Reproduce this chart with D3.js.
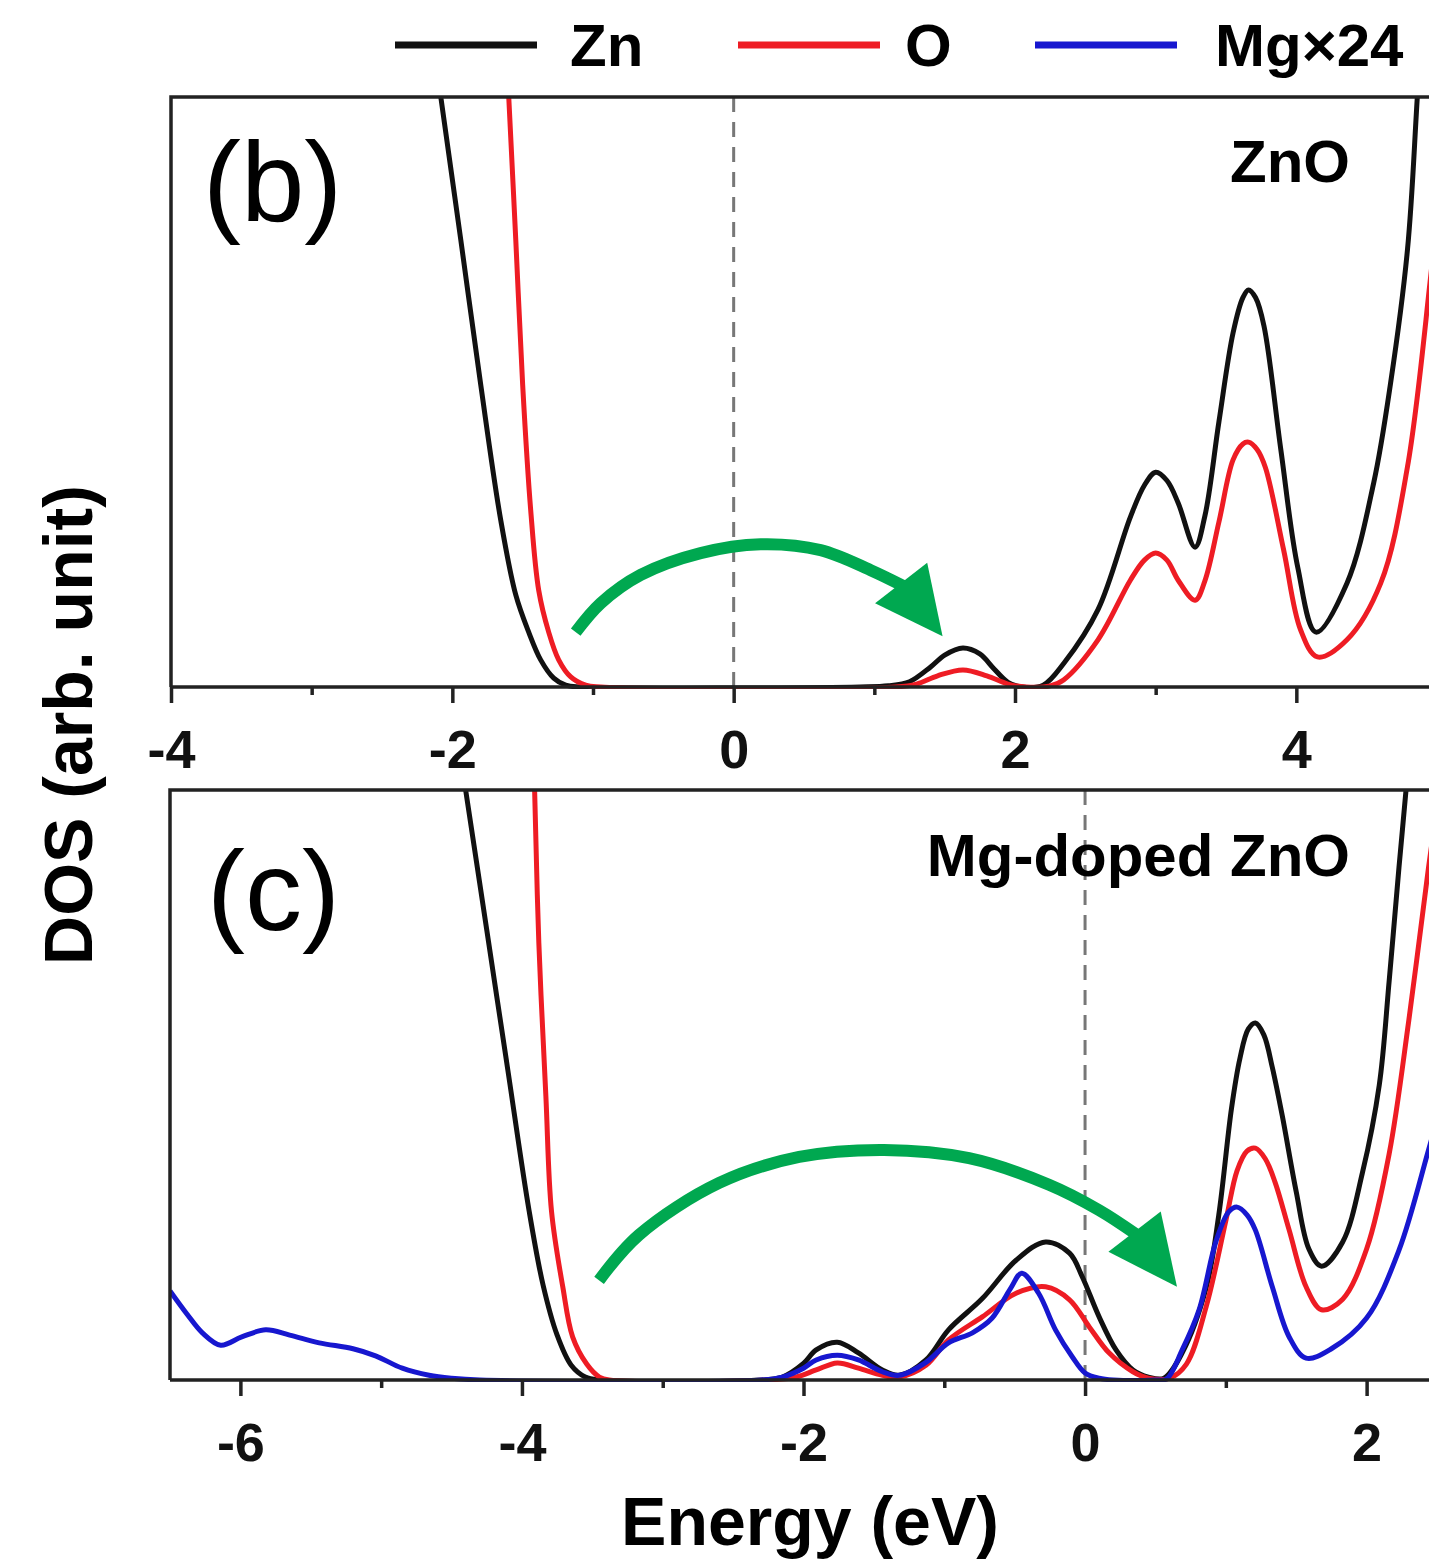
<!DOCTYPE html>
<html>
<head>
<meta charset="utf-8">
<script src="https://cdn.jsdelivr.net/npm/d3@7"></script>
<style>
  body { margin: 0; background: #fff; }
  text { font-family: "Liberation Sans", Arial, sans-serif; }
</style>
</head>
<body>
<svg width="1429" height="1565"></svg>
<script>
// DOS curves, [energy (eV), DOS (arb. unit, 0-100 = panel height)]
// panel (b) ZnO
let znB = [[-2.2, 120], [-2.082, 100], [-1.94, 75.8], [-1.798, 51.2], [-1.656, 28.3], [-1.549, 15.6],
    [-1.457, 9.3], [-1.372, 4.6], [-1.279, 1.5], [-1.194, 0.3], [-1.087, 0], [0.9, 0], [1.1, 0.2],
    [1.25, 0.9], [1.4, 3.4], [1.5, 5.4], [1.63, 6.6], [1.75, 5.6], [1.85, 3.1], [1.95, 0.8], [2.05, 0],
    [2.2, 0.3], [2.35, 4.1], [2.59, 13.1], [2.82, 28.8], [2.92, 34.2], [3.0, 36.4], [3.08, 35.0],
    [3.16, 31.2], [3.28, 23.7], [3.35, 29], [3.45, 45], [3.55, 60], [3.62, 66], [3.66, 67.3], [3.71, 66],
    [3.77, 61.2], [3.89, 40.2], [4.01, 20.3], [4.14, 9.3], [4.36, 17.6], [4.55, 34.6], [4.67, 51.5],
    [4.79, 74.1], [4.86, 100], [4.95, 137]];
let oB = [[-1.7, 148], [-1.599, 100], [-1.549, 75.8], [-1.5, 51.2], [-1.443, 30.0], [-1.386, 16.4],
    [-1.315, 9.3], [-1.244, 4.6], [-1.158, 1.7], [-1.052, 0.3], [-0.945, 0], [1.15, 0], [1.3, 0.5],
    [1.45, 1.9], [1.63, 2.9], [1.8, 1.9], [1.95, 0.5], [2.08, 0], [2.25, 0.2], [2.345, 1.2], [2.59, 8.0],
    [2.82, 18.1], [2.92, 21.5], [3.0, 22.7], [3.08, 21.5], [3.16, 18.1], [3.28, 14.7], [3.35, 18],
    [3.45, 28], [3.55, 38.5], [3.62, 41.2], [3.66, 41.5], [3.72, 40.3], [3.78, 37.2], [3.91, 23.2],
    [4.03, 9.7], [4.15, 5.1], [4.36, 8.0], [4.6, 17.6], [4.79, 37.3], [4.95, 68.5], [5.0, 80]];

// panel (c) Mg-doped ZnO
let znC = [[-4.5, 116], [-4.40, 100], [-4.25, 76.3], [-4.10, 52.5], [-3.95, 28.8], [-3.85, 16.1],
    [-3.75, 7.6], [-3.65, 2.5], [-3.55, 0.5], [-3.45, 0], [-2.3, 0], [-2.15, 0.5], [-2.0, 2.8],
    [-1.91, 5.1], [-1.76, 6.4], [-1.61, 4.6], [-1.44, 1.7], [-1.32, 0.8], [-1.13, 3.4], [-0.97, 8.5],
    [-0.73, 13.8], [-0.49, 20.3], [-0.28, 23.4], [-0.11, 21.5], [-0.02, 17.5], [0.10, 10.7], [0.22, 5.1],
    [0.34, 1.7], [0.45, 0.5], [0.56, 0.3], [0.69, 4.6], [0.86, 15.6], [0.95, 28], [1.04, 46],
    [1.10, 54.5], [1.16, 59.5], [1.21, 60.5], [1.27, 58.5], [1.33, 53], [1.40, 44.9], [1.50, 31.9],
    [1.59, 22.2], [1.68, 19.3], [1.83, 23.4], [1.97, 35.1], [2.09, 50], [2.16, 67.6], [2.23, 86.9],
    [2.28, 100], [2.35, 120]];
let oC = [[-4.0, 178], [-3.91, 100], [-3.88, 74.1], [-3.83, 48.1], [-3.79, 28.6], [-3.71, 15.8],
    [-3.64, 7.3], [-3.54, 2.7], [-3.45, 0.5], [-3.38, 0], [-2.25, 0], [-2.05, 0.5], [-1.91, 1.7],
    [-1.76, 2.9], [-1.61, 2.0], [-1.44, 0.8], [-1.32, 0.5], [-1.13, 2.5], [-0.97, 6.8], [-0.73, 10.7],
    [-0.49, 14.7], [-0.28, 15.8], [-0.11, 13.6], [0.03, 9.0], [0.17, 4.6], [0.34, 1.4], [0.45, 0.3],
    [0.6, 0.3], [0.72, 2.7], [0.86, 12.4], [1.0, 27], [1.08, 35.5], [1.15, 38.8], [1.21, 39.3],
    [1.28, 37.5], [1.35, 33.5], [1.45, 25.4], [1.57, 15.8], [1.68, 11.9], [1.83, 13.7], [2.0, 22.2],
    [2.16, 38.3], [2.30, 61.0], [2.44, 86.9], [2.5, 97]];
let mgC = [[-6.5, 15.1], [-6.38, 11.2], [-6.27, 8.0], [-6.14, 5.9], [-5.99, 7.3], [-5.82, 8.5],
    [-5.65, 7.6], [-5.44, 6.3], [-5.20, 5.3], [-5.04, 4.1], [-4.85, 2.0], [-4.66, 0.8], [-4.50, 0.3],
    [-4.3, 0], [-2.3, 0], [-2.15, 0.5], [-2.0, 2.0], [-1.91, 3.4], [-1.76, 4.2], [-1.61, 3.4],
    [-1.44, 1.4], [-1.32, 0.8], [-1.13, 3.0], [-0.97, 6.3], [-0.8, 8.0], [-0.66, 10.5], [-0.53, 15.5],
    [-0.45, 18.1], [-0.33, 14.7], [-0.21, 8.5], [-0.09, 3.9], [0.0, 1.2], [0.1, 0.3], [0.2, 0], [0.5, 0],
    [0.58, 0.2], [0.69, 5.1], [0.81, 11.9], [0.93, 23.5], [1.02, 28.5], [1.08, 29.3], [1.15, 28],
    [1.21, 25.4], [1.33, 15.8], [1.45, 7.3], [1.57, 3.7], [1.75, 5.3], [2.0, 10.5], [2.23, 22.0],
    [2.44, 39.0], [2.5, 44]];

// green arrows: path points then tip
let arrowB = [[-1.123, 9.3], [-0.945, 14.2], [-0.661, 19.0], [-0.235, 22.7], [0.192, 24.2],
    [0.618, 23.2], [0.974, 19.8], [1.208, 17.1]];
let arrowTipB = [1.485, 8.6];
let arrowC = [[-3.452, 16.9], [-3.168, 24.6], [-2.599, 33.4], [-2.031, 37.8], [-1.428, 39.0],
    [-0.824, 37.6], [-0.256, 33.1], [0.099, 28.8], [0.369, 24.6]];
let arrowTipC = [0.653, 15.8];

// ticks
let majorB = [-4, -2, 0, 2, 4];
let minorB = [-3, -1, 1, 3];
let majorC = [-6, -4, -2, 0, 2];
let minorC = [-5, -3, -1, 1];

// legend
let legendNames = ['Zn', 'O', 'Mg×24'];
let legendColors = ['#111111', '#ee1c24', '#1717cf'];

let svg = d3.select('svg');

// scales, both panels share the same width (right edge cut off by the picture)
let xB = d3.scaleLinear().domain([-4, 5]).range([171, 1437]);
let yB = d3.scaleLinear().domain([0, 100]).range([687, 97]);
let xC = d3.scaleLinear().domain([-6.5, 2.5]).range([170, 1437]);
let yC = d3.scaleLinear().domain([0, 100]).range([1380, 790]);

function drawPanel(id, x, y, major, minor, series) {
    let g = svg.append('g');
    let x0 = x.range()[0], x1 = x.range()[1];
    let yb = y.range()[0], yt = y.range()[1];

    // clip curves to the plot box
    svg.append('clipPath').attr('id', id)
        .append('rect')
        .attr('x', x0).attr('y', yt)
        .attr('width', x1 - x0).attr('height', yb - yt + 2);

    // dashed Fermi level
    g.append('line')
        .attr('x1', x(0)).attr('x2', x(0))
        .attr('y1', yt).attr('y2', yb)
        .attr('stroke', '#777')
        .attr('stroke-width', 3)
        .attr('stroke-dasharray', '15,10');

    let line = d3.line()
        .x(d => x(d[0]))
        .y(d => y(d[1]))
        .curve(d3.curveCatmullRom.alpha(0.5));

    series.forEach(function(s) {
        g.append('path')
            .attr('d', line(s.data))
            .attr('clip-path', 'url(#' + id + ')')
            .attr('fill', 'none')
            .attr('stroke', s.color)
            .attr('stroke-width', 5)
            .attr('stroke-linejoin', 'round');
    });

    // frame: left, top, bottom
    g.append('path')
        .attr('d', 'M' + x0 + ',' + yb + 'V' + yt + 'H' + (x1 + 10) + 'M' + x0 + ',' + yb + 'H' + (x1 + 10))
        .attr('fill', 'none')
        .attr('stroke', '#222')
        .attr('stroke-width', 3.5);

    // major ticks with labels
    let axis = g.append('g')
        .attr('transform', 'translate(0,' + yb + ')')
        .call(d3.axisBottom(x).tickValues(major).tickSize(16).tickPadding(27).tickFormat(d => String(d)));
    axis.select('.domain').remove();
    axis.selectAll('line').attr('stroke', '#222').attr('stroke-width', 3.5);
    axis.selectAll('text')
        .attr('fill', '#111')
        .style('font-size', '54px')
        .style('font-weight', 'bold');

    // minor ticks
    let minorAxis = g.append('g')
        .attr('transform', 'translate(0,' + yb + ')')
        .call(d3.axisBottom(x).tickValues(minor).tickSize(8).tickFormat(''));
    minorAxis.select('.domain').remove();
    minorAxis.selectAll('line').attr('stroke', '#222').attr('stroke-width', 3.5);

    return g;
}

function drawArrow(x, y, pts, tip) {
    let shaft = d3.line()
        .x(d => x(d[0]))
        .y(d => y(d[1]))
        .curve(d3.curveCatmullRom);

    svg.append('path')
        .attr('d', shaft(pts))
        .attr('fill', 'none')
        .attr('stroke', '#00a850')
        .attr('stroke-width', 12);

    // triangular head from the last shaft point to the tip
    let b = pts[pts.length - 1];
    let bx = x(b[0]), by = y(b[1]);
    let tx = x(tip[0]), ty = y(tip[1]);
    let len = Math.hypot(tx - bx, ty - by);
    let nx = -(ty - by) / len, ny = (tx - bx) / len;
    let half = 33;
    let back = 4;
    let ux = (tx - bx) / len, uy = (ty - by) / len;
    let head = [[bx - ux * back + nx * half, by - uy * back + ny * half], [tx, ty],
        [bx - ux * back - nx * half, by - uy * back - ny * half]];
    svg.append('polygon')
        .attr('points', head.map(p => p.join(',')).join(' '))
        .attr('fill', '#00a850');
}

drawPanel('clipB', xB, yB, majorB, minorB, [
    {data: znB, color: legendColors[0]},
    {data: oB, color: legendColors[1]}
]);
drawPanel('clipC', xC, yC, majorC, minorC, [
    {data: znC, color: legendColors[0]},
    {data: oC, color: legendColors[1]},
    {data: mgC, color: legendColors[2]}
]);

drawArrow(xB, yB, arrowB, arrowTipB);
drawArrow(xC, yC, arrowC, arrowTipC);

// panel labels
svg.append('text').text('(b)')
    .attr('x', 203).attr('y', 221)
    .style('font-size', '114px');
svg.append('text').text('(c)')
    .attr('x', 207).attr('y', 930)
    .style('font-size', '114px');

svg.append('text').text('ZnO')
    .attr('x', 1350).attr('y', 182)
    .attr('text-anchor', 'end')
    .style('font-size', '60px').style('font-weight', 'bold');
svg.append('text').text('Mg-doped ZnO')
    .attr('x', 1350).attr('y', 876)
    .attr('text-anchor', 'end')
    .style('font-size', '60px').style('font-weight', 'bold');

// axis titles
svg.append('text').text('Energy (eV)')
    .attr('x', 810).attr('y', 1545)
    .attr('text-anchor', 'middle')
    .style('font-size', '68px').style('font-weight', 'bold');
svg.append('text').text('DOS (arb. unit)')
    .attr('transform', 'translate(92,725) rotate(-90)')
    .attr('text-anchor', 'middle')
    .style('font-size', '68px').style('font-weight', 'bold');

// legend on top
let legendX = [395, 738, 1035];
let legend = svg.append('g');
legendNames.forEach(function(name, i) {
    legend.append('line')
        .attr('x1', legendX[i]).attr('x2', legendX[i] + 142)
        .attr('y1', 45).attr('y2', 45)
        .attr('stroke', legendColors[i])
        .attr('stroke-width', 7);
    legend.append('text').text(name)
        .attr('x', legendX[i] + (i === 0 ? 175 : 167)  + (i === 2 ? 13 : 0))
        .attr('y', 66)
        .style('font-size', '60px').style('font-weight', 'bold');
});
</script>
</body>
</html>
